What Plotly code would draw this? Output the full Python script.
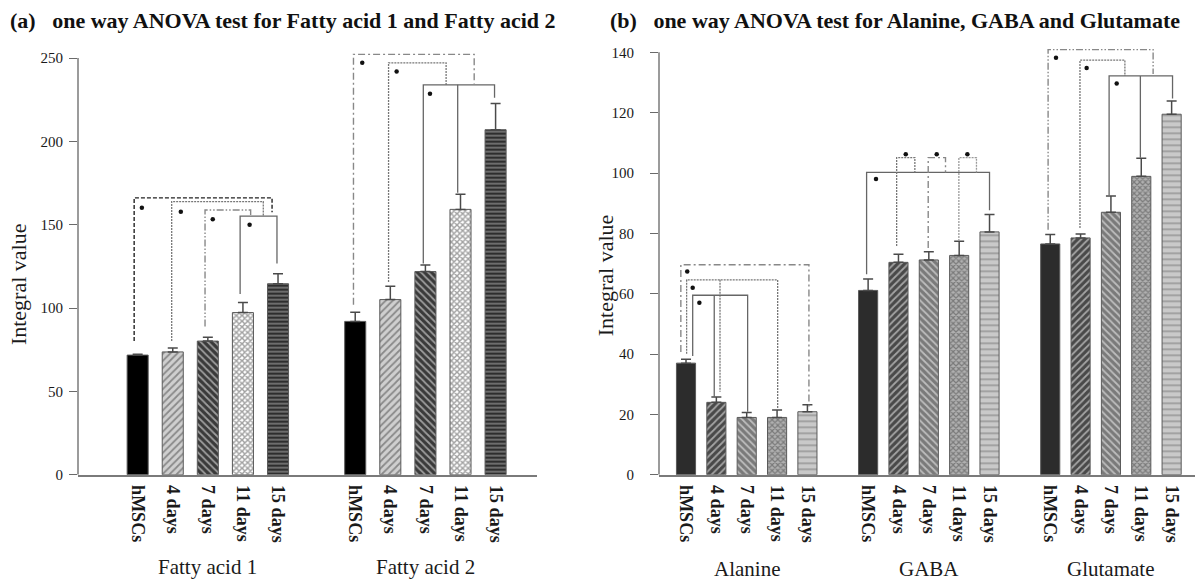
import plotly.graph_objects as go

# ---------------- data ----------------
conditions = ["hMSCs", "4 days", "7 days", "11 days", "15 days"]
groups_a = ["Fatty acid 1", "Fatty acid 2"]
groups_b = ["Alanine", "GABA", "Glutamate"]

fa1_mean = [71.8, 73.7, 80.2, 97.3, 114.6]
fa1_err = [0.5, 2.4, 2.3, 6.0, 6.0]
fa2_mean = [92.0, 105.1, 121.9, 159.2, 207.0]
fa2_err = [5.5, 8.0, 4.0, 9.0, 15.7]

ala_mean = [37.0, 24.0, 19.0, 19.0, 20.9]
ala_err = [1.3, 1.8, 1.6, 2.5, 2.3]
gaba_mean = [61.1, 70.4, 71.2, 72.7, 80.5]
gaba_err = [3.8, 2.7, 2.7, 4.7, 5.8]
glu_mean = [76.5, 78.5, 87.0, 98.9, 119.5]
glu_err = [3.1, 1.3, 5.4, 6.0, 4.4]

yticks_a = [0, 50, 100, 150, 200, 250]
yticks_b = [0, 20, 40, 60, 80, 100, 120, 140]

titles = ["(a)\u00a0\u00a0\u00a0one way ANOVA test for Fatty acid 1 and Fatty acid 2",
          "(b)\u00a0\u00a0\u00a0one way ANOVA test for Alanine, GABA and Glutamate"]
ylabel = "Integral value"

# group start positions on the category axis
starts_a = [0, 6.2]
starts_b = [0, 6, 12]

# significance brackets: (panel, style, polyline points in data units, extra drops)
brackets = [
    # Fatty acid 1
    ("a", "dashblack", [(-0.1, 80.2), (-0.1, 166.1), (3.83, 166.1), (3.83, 157.5)], []),
    ("a", "dot", [(0.97, 80.2), (0.97, 163.9), (3.58, 163.9), (3.58, 155.2)], []),
    ("a", "dashdotdot", [(1.92, 89.0), (1.92, 158.8), (3.22, 158.8), (3.22, 155.2)], []),
    ("a", "solid", [(2.92, 108.5), (2.92, 155.2), (3.97, 155.2), (3.97, 126.8)], []),
    # Fatty acid 2
    ("a", "dashdot", [(6.15, 102.0), (6.15, 252.2), (9.59, 252.2), (9.59, 234.5)], []),
    ("a", "dot", [(7.15, 115.6), (7.15, 247.1), (8.79, 247.1), (8.79, 234.0)], []),
    ("a", "solid", [(8.14, 126.8), (8.14, 233.9), (10.17, 233.9), (10.17, 226.2)], [(9.12, 233.9, 169.2)]),
    # Alanine
    ("b", "dashdot", [(-0.17, 40.7), (-0.17, 69.6), (4.05, 69.6), (4.05, 22.6)], []),
    ("b", "dot", [(0.02, 40.1), (0.02, 64.6), (3.02, 64.6), (3.02, 21.5)], [(1.12, 64.6, 27.5)]),
    ("b", "solid", [(0.22, 39.4), (0.22, 59.5), (2.03, 59.5), (2.03, 20.9)], [(0.93, 59.5, 25.8)]),
    # GABA
    ("b", "solid", [(5.95, 66.5), (5.95, 100.2), (10.0, 100.2), (10.0, 87.7)], []),
    ("b", "dot", [(6.94, 75.8), (6.94, 105.1), (7.54, 105.1), (7.54, 100.2)], []),
    ("b", "dashdot", [(7.98, 75.2), (7.98, 105.1), (8.55, 105.1), (8.55, 100.2)], []),
    ("b", "dotlight", [(8.99, 77.5), (8.99, 105.1), (9.57, 105.1), (9.57, 100.2)], []),
    # Glutamate
    ("b", "dashdotdot", [(11.93, 81.2), (11.93, 140.9), (15.39, 140.9), (15.39, 132.8)], []),
    ("b", "dot", [(12.98, 81.8), (12.98, 137.4), (14.46, 137.4), (14.46, 132.2)], []),
    ("b", "solid", [(13.94, 92.6), (13.94, 132.2), (16.03, 132.2), (16.03, 124.7)], [(14.97, 132.2, 105.1)]),
]
stars_a_x = [0.12, 1.23, 2.14, 3.19, 6.40, 7.38, 8.33]
stars_a_y = [160.2, 157.8, 153.3, 150.0, 247.1, 241.9, 228.6]
stars_b_x = [0.04, 0.22, 0.44, 6.26, 7.24, 8.26, 9.27, 12.19, 13.2, 14.19]
stars_b_y = [67.4, 62.0, 57.0, 98.0, 106.2, 106.2, 106.2, 138.2, 134.8, 129.7]

# ---------------- styles ----------------
W, H = 1195, 585
SERIF = "Liberation Serif"
line_styles = {
    "solid": dict(color="#666666", width=1.3, dash="solid"),
    "dashblack": dict(color="#222222", width=1.4, dash="4px,2px"),
    "dot": dict(color="#777777", width=1.3, dash="2px,1px"),
    "dotlight": dict(color="#9a9a9a", width=1.3, dash="2px,1px"),
    "dashdot": dict(color="#888888", width=1.4, dash="7px,3px,2px,3px"),
    "dashdotdot": dict(color="#888888", width=1.4, dash="7px,2px,1.5px,2px,1.5px,2px"),
}

pat_a = dict(
    shape=["", "/", "\\", "x", "-"],
    bgcolor=["#000000", "#cfcfcf", "#3a3a3a", "#ffffff", "#2e2e2e"],
    fgcolor=["#000000", "#6a6a6a", "#8c8c8c", "#2e2e2e", "#8a8a8a"],
    size=[6, 5, 5, 4, 4],
    solidity=[0.3, 0.35, 0.35, 0.6, 0.3],
)
pat_b = dict(
    shape=["", "/", "\\", "x", "-"],
    bgcolor=["#2c2c2c", "#494949", "#7a7a7a", "#b0b0b0", "#c9c9c9"],
    fgcolor=["#2c2c2c", "#9a9a9a", "#3a3a3a", "#333333", "#505050"],
    size=[6, 5, 5, 4, 6],
    solidity=[0.3, 0.35, 0.35, 0.5, 0.2],
)

fig = go.Figure()


def add_group(means, errs, start, pat, xa, ya, width):
    xs = [start + i for i in range(len(means))]
    fig.add_trace(go.Bar(
        x=xs, y=means, width=width,
        marker=dict(color=pat["bgcolor"], line=dict(color="#5a5a5a", width=1),
                    pattern=dict(shape=pat["shape"], fgcolor=pat["fgcolor"],
                                 size=pat["size"], solidity=pat["solidity"],
                                 fillmode="overlay")),
        error_y=dict(type="data", symmetric=False, array=errs,
                     arrayminus=[0] * len(errs), color="#4a4a4a", thickness=1.5, width=5),
        xaxis=xa, yaxis=ya, showlegend=False, hoverinfo="skip",
    ))


for means, errs, st in zip([fa1_mean, fa2_mean], [fa1_err, fa2_err], starts_a):
    add_group(means, errs, st, pat_a, "x", "y", 0.6)
for means, errs, st in zip([ala_mean, gaba_mean, glu_mean],
                           [ala_err, gaba_err, glu_err], starts_b):
    add_group(means, errs, st, pat_b, "x2", "y2", 0.63)

for panel, style, pts, drops in brackets:
    xa, ya = ("x", "y") if panel == "a" else ("x2", "y2")
    fig.add_trace(go.Scatter(x=[p[0] for p in pts], y=[p[1] for p in pts], mode="lines",
                             line=line_styles[style], xaxis=xa, yaxis=ya,
                             showlegend=False, hoverinfo="skip"))
    for dx, y0, y1 in drops:
        fig.add_trace(go.Scatter(x=[dx, dx], y=[y0, y1], mode="lines",
                                 line=line_styles[style], xaxis=xa, yaxis=ya,
                                 showlegend=False, hoverinfo="skip"))

fig.add_trace(go.Scatter(x=stars_a_x, y=stars_a_y, mode="markers",
                         marker=dict(color="#111111", size=4.5), xaxis="x", yaxis="y",
                         showlegend=False, hoverinfo="skip"))
fig.add_trace(go.Scatter(x=stars_b_x, y=stars_b_y, mode="markers",
                         marker=dict(color="#111111", size=4.5), xaxis="x2", yaxis="y2",
                         showlegend=False, hoverinfo="skip"))

# ---------------- axes ----------------
tickvals_a = [s + i for s in starts_a for i in range(len(conditions))]
tickvals_b = [s + i for s in starts_b for i in range(len(conditions))]
xcommon = dict(showgrid=False, zeroline=False, showline=True, linecolor="#7a7a7a",
               linewidth=1.5, ticks="", tickangle=90, ticklabelstandoff=5,
               tickfont=dict(family=SERIF, size=18, color="#1a1a1a", weight="bold"))
ycommon = dict(showgrid=False, zeroline=False, showline=False, ticks="outside",
               ticklen=8, tickcolor="#6a6a6a", tickwidth=1.2,
               tickfont=dict(family=SERIF, size=15, color="#1a1a1a"))

fig.update_layout(
    width=W, height=H, autosize=False,
    margin=dict(l=0, r=0, t=0, b=0),
    paper_bgcolor="white", plot_bgcolor="white",
    xaxis=dict(domain=[78 / W, 537 / W], range=[-1.7, 11.38], tickvals=tickvals_a,
               ticktext=conditions * len(starts_a), anchor="y", **xcommon),
    yaxis=dict(domain=[104 / H, 536.5 / H], range=[0, 255], tickvals=yticks_a,
               anchor="x", ticklabelstandoff=3, **ycommon),
    xaxis2=dict(domain=[659 / W, 1.0], range=[-0.89, 16.77], tickvals=tickvals_b,
                ticktext=conditions * len(starts_b), anchor="y2", **xcommon),
    yaxis2=dict(domain=[104 / H, 539.9 / H], range=[0, 142], tickvals=yticks_b,
                anchor="x2", ticklabelstandoff=13, **ycommon),
)

# y axis lines limited to the tick range
fig.add_shape(type="line", xref="x domain", yref="y", x0=0, x1=0, y0=0, y1=250,
              line=dict(color="#7a7a7a", width=1.5))
fig.add_shape(type="line", xref="x2 domain", yref="y2", x0=0, x1=0, y0=0, y1=140,
              line=dict(color="#7a7a7a", width=1.5))

# group labels
for g, s in zip(groups_a, starts_a):
    fig.add_annotation(x=s + 2, y=(H - 575) / H, xref="x", yref="paper", text=g,
                       showarrow=False, font=dict(family=SERIF, size=21, color="#1a1a1a"),
                       xanchor="center", yanchor="middle")
for g, s in zip(groups_b, starts_b):
    fig.add_annotation(x=s + 2, y=(H - 577) / H, xref="x2", yref="paper", text=g,
                       showarrow=False, font=dict(family=SERIF, size=21, color="#1a1a1a"),
                       xanchor="center", yanchor="middle")

# y axis titles
for xp, yp in [(18, 287), (605, 278)]:
    fig.add_annotation(x=xp / W, y=(H - yp) / H, xref="paper", yref="paper", text=ylabel,
                       textangle=-90, showarrow=False,
                       font=dict(family=SERIF, size=22, color="#1a1a1a"),
                       xanchor="center", yanchor="middle")

# panel titles
for t, xp in zip(titles, [8, 608]):
    fig.add_annotation(x=xp / W, y=(H - 19) / H, xref="paper", yref="paper", text=t,
                       showarrow=False,
                       font=dict(family=SERIF, size=22, color="#111111", weight="bold"),
                       xanchor="left", yanchor="middle")

fig.write_html("out.html")
